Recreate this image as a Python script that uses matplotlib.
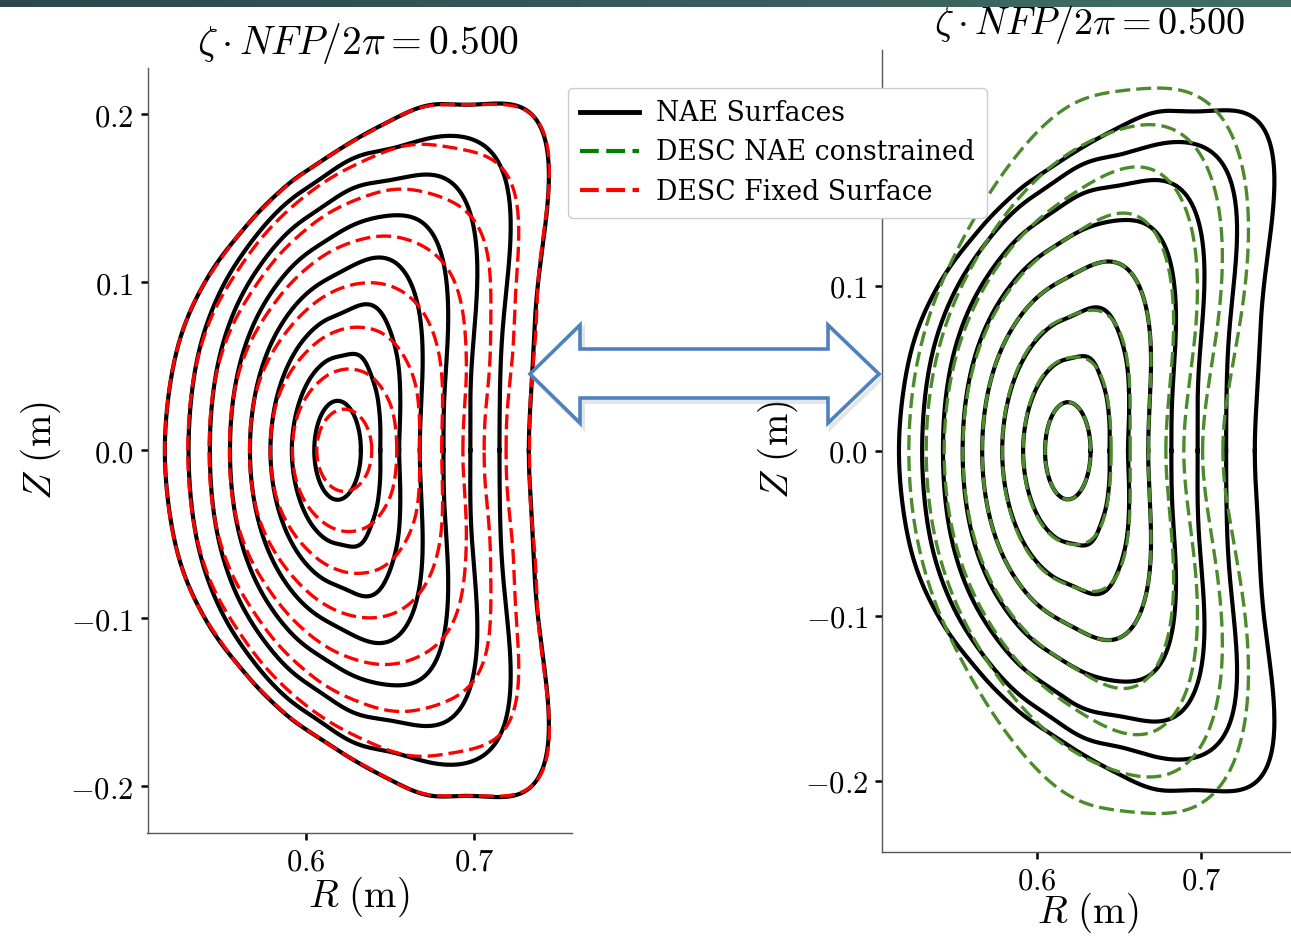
import numpy as np
import matplotlib.pyplot as plt
from matplotlib.lines import Line2D
from matplotlib.patches import Polygon
from matplotlib.colors import LinearSegmentedColormap
from matplotlib.ticker import FuncFormatter

plt.rcParams['mathtext.fontset'] = 'cm'
plt.rcParams['font.family'] = 'DejaVu Serif'

# flux surface labels
rho = np.arange(1, 9) / 8

# cross sections at zeta*NFP/2pi = 0.5, written as r(theta) = sum c_m cos(m theta)
# about the axis, with Z scaled by kappa; coefficients in units of 1e-4 m
nae_axis, nae_kappa, nae_inner = 0.61899, 2.13, 138.3
nae_mid = [529, 41, 2, -52, -31, -9, 3, 4, 1]
nae_75 = [790, 106, 39, -74, -59, -33, -10, 7, 11, 10, 3, -1, -1]
nae_out = [1030, 212, 145, -96, -79, -73, -35, -8, 7, 18, 17, 12, 4, -3, -7, -7, -4, -1, 1, 1, 1]

fix_axis, fix_kappa, fix_inner = 0.62297, 1.5, 163.2
fix_mid = [627, 50, -38, -41, -18, -3, -1, 2, 0]
fix_75 = [942, 112, -83, -100, -51, -9, 5, 12, 6, 2, -2, -4, -3, -1, 1, 2, 1]
fix_out = [1235, 185, -82, -181, -106, -19, 24, 37, 22, 7, -7, -15, -12, -4, 5, 8, 5, 1, -2, -2, 0]

con_out = [1029, 152, 8, -114, -69, -54, -22, -1, 6, 5, 1]

theta = np.linspace(0, 2 * np.pi, 721)

def surfaces(axis, kappa, inner, keys):
    # polynomial in rho through the ellipse at rho=1/8 and the given surfaces
    rk = [0.125] + [p for p, _ in keys]
    C = np.zeros((len(rk), 21))
    C[0, 0] = inner
    for i, (_, c) in enumerate(keys):
        C[i + 1, :len(c)] = c
    V = np.array([[p ** (j + 1) for j in range(len(rk))] for p in rk])
    A = np.linalg.solve(V, C * 1e-4)
    cosm = np.cos(np.outer(np.arange(21), theta))
    out = []
    for p in rho:
        r = sum(p ** (j + 1) * A[j] for j in range(len(rk))) @ cosm
        out.append((axis + r * np.cos(theta), kappa * r * np.sin(theta)))
    return out

nae = surfaces(nae_axis, nae_kappa, nae_inner, [(0.5, nae_mid), (0.75, nae_75), (1.0, nae_out)])
fix = surfaces(fix_axis, fix_kappa, fix_inner, [(0.5, fix_mid), (0.75, fix_75), (1.0, fix_out)])
con = surfaces(nae_axis, nae_kappa, nae_inner, [(0.5, nae_mid), (1.0, con_out)])

W, H = 1291, 936
fig = plt.figure(figsize=(W / 100, H / 100), dpi=100)

bar = fig.add_axes([0, 1 - 7 / H, 1, 7 / H])
bar.imshow(np.linspace(0, 1, 256)[None, :], aspect='auto',
           cmap=LinearSegmentedColormap.from_list('bar', ['#2b474b', '#416f69']))
bar.axis('off')

axL = fig.add_axes([147.5 / W, 1 - 832.6 / H, 424.5 / W, 764.6 / H])
axR = fig.add_axes([882 / W, 1 - 851.6 / H, 415 / W, 801.6 / H])

green = '#4b8b2b'
for R, Z in nae:
    axL.plot(R, Z, color='k', lw=3.0, zorder=2)
    axR.plot(R, Z, color='k', lw=3.0, zorder=2)
for R, Z in fix:
    axL.plot(R, Z, color='red', lw=2.4, dashes=(4.5, 1.8), zorder=3)
for R, Z in con:
    axR.plot(R, Z, color=green, lw=2.4, dashes=(4.5, 1.8), zorder=3)

fmt = FuncFormatter(lambda v, p: '$%s$' % ('%.1f' % v).replace('-', '\u2212'))
for ax, zlim, yt in ((axL, 0.2276, [-0.2, -0.1, 0.0, 0.1, 0.2]), (axR, 0.2430, [-0.2, -0.1, 0.0, 0.1])):
    ax.set_xlim(0.5062, 0.7581)
    ax.set_ylim(-zlim, zlim)
    ax.set_xticks([0.6, 0.7])
    ax.set_yticks(yt)
    ax.xaxis.set_major_formatter(fmt)
    ax.yaxis.set_major_formatter(fmt)
    ax.tick_params(direction='out', length=5, width=1.8, labelsize=22, pad=5)
    for s in ('top', 'right'):
        ax.spines[s].set_visible(False)
    for s in ('left', 'bottom'):
        ax.spines[s].set_color('#555555')
        ax.spines[s].set_linewidth(1.0)

title = r'$\zeta \cdot NFP/2\pi = 0.500$'
fig.text(358 / W, 1 - 44 / H, title, fontsize=28.5, ha='center', va='center')
fig.text(1089 / W, 1 - 24 / H, title, fontsize=27.5, ha='center', va='center')
fig.text(359 / W, 1 - 897 / H, r'$R~(\mathrm{m})$', fontsize=28, ha='center', va='center')
fig.text(1088 / W, 1 - 913 / H, r'$R~(\mathrm{m})$', fontsize=28, ha='center', va='center')
fig.text(41 / W, 1 - 451 / H, r'$Z~(\mathrm{m})$', fontsize=28, ha='center', va='center', rotation=90)
fig.text(778 / W, 1 - 450 / H, r'$Z~(\mathrm{m})$', fontsize=28, ha='center', va='center', rotation=90)

handles = [Line2D([], [], color='k', lw=3.5),
           Line2D([], [], color='green', lw=3.0, dashes=(4.5, 1.8)),
           Line2D([], [], color='red', lw=3.0, dashes=(4.5, 1.8))]
labels = ['NAE Surfaces', 'DESC NAE constrained', 'DESC Fixed Surface']
fig.legend(handles, labels, loc='upper left', bbox_to_anchor=(568 / W, 1 - 88 / H),
           borderaxespad=0, fontsize=19.2, handlelength=2.2, handletextpad=0.65,
           labelspacing=0.46, borderpad=0.45, framealpha=1, edgecolor='#cccccc')

# double arrow between the two panels
arrow = [(530, 374), (580, 325), (580, 349), (828, 349), (828, 325), (879, 374),
         (828, 423), (828, 398), (580, 398), (580, 423)]
fpts = [(x / W, 1 - y / H) for x, y in arrow]
spts = [((x + 3) / W, 1 - (y + 4) / H) for x, y in arrow]
fig.add_artist(Polygon(spts, closed=True, transform=fig.transFigure, facecolor='none',
                       edgecolor='#aaaaaa', lw=3, alpha=0.3, zorder=8))
fig.add_artist(Polygon(fpts, closed=True, transform=fig.transFigure, facecolor='white',
                       edgecolor='#4f81bd', lw=2.6, joinstyle='miter', zorder=9))

fig.savefig('out.png', dpi=100)
